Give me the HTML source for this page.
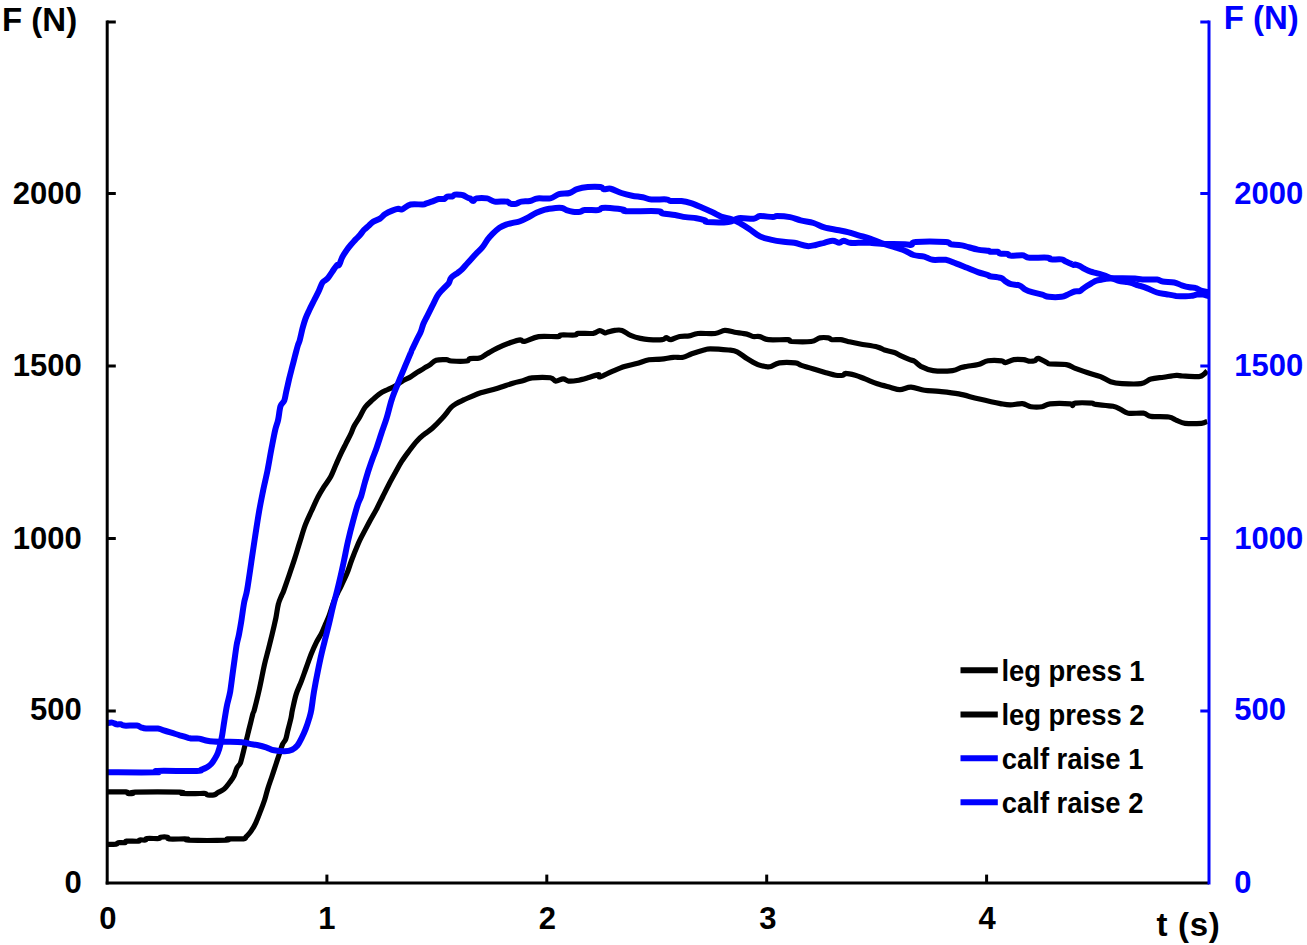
<!DOCTYPE html><html><head><meta charset="utf-8"><style>html,body{margin:0;padding:0;background:#fff;}svg{display:block}</style></head><body>
<svg width="1307" height="945" viewBox="0 0 1307 945">
<rect width="1307" height="945" fill="#fff"/>
<g fill="none" stroke-linejoin="round" stroke-linecap="butt">
<path d="M107.6,844.3 C109.0,844.3 114.5,844.6 116.2,844.3 C117.9,844.0 116.5,843.0 118.0,842.7 C119.5,842.4 123.6,843.0 125.0,842.7 C126.4,842.5 124.3,841.5 126.5,841.2 C128.7,841.0 136.1,841.4 138.3,841.2 C140.5,841.0 138.3,840.2 139.5,840.0 C140.7,839.8 144.4,840.2 145.6,840.0 C146.8,839.8 144.6,838.8 146.8,838.5 C149.1,838.2 156.8,838.7 159.1,838.5 C161.3,838.3 158.9,837.4 160.3,837.2 C161.7,837.0 166.3,836.9 167.7,837.2 C169.1,837.5 165.7,838.7 168.9,839.0 C172.2,839.3 183.9,838.8 187.2,839.0 C190.5,839.2 182.0,840.0 188.5,840.2 C195.0,840.4 219.9,840.4 226.4,840.2 C232.9,840.0 224.7,839.0 227.6,838.8 C230.5,838.6 240.5,839.1 243.6,838.8 C246.7,838.5 244.8,838.1 246.0,836.9 C247.2,835.7 249.3,833.8 250.9,831.4 C252.5,829.0 254.2,826.3 255.8,822.8 C257.4,819.3 259.2,814.4 260.7,810.6 C262.2,806.8 263.4,803.6 264.6,800.0 C265.8,796.4 266.5,792.9 267.7,788.9 C268.9,784.9 270.6,780.4 272.0,776.2 C273.4,772.0 275.0,767.2 276.2,763.5 C277.4,759.8 278.3,757.2 279.4,754.0 C280.4,750.8 281.4,746.9 282.5,744.4 C283.6,741.9 284.8,741.5 285.7,739.2 C286.6,736.9 286.9,734.2 287.8,730.7 C288.7,727.2 290.2,721.5 291.0,718.0 C291.8,714.5 291.5,714.0 292.4,710.0 C293.3,706.0 294.7,698.9 296.2,694.1 C297.7,689.3 299.6,685.8 301.3,681.4 C303.0,677.0 304.6,672.1 306.3,667.5 C308.0,662.9 309.7,657.7 311.4,653.5 C313.1,649.3 314.8,645.5 316.5,642.1 C318.2,638.7 320.1,636.2 321.6,633.2 C323.1,630.2 324.1,627.3 325.4,624.3 C326.7,621.3 327.7,619.4 329.2,615.4 C330.7,611.4 332.6,604.4 334.3,600.2 C336.0,596.0 337.1,594.4 339.2,590.0 C341.3,585.6 344.6,579.1 346.7,574.1 C348.8,569.1 349.8,565.0 351.7,560.0 C353.6,555.0 356.5,547.9 358.1,544.1 C359.7,540.3 359.4,540.9 361.2,537.4 C363.0,533.9 366.3,527.7 368.8,523.0 C371.3,518.3 374.1,513.8 376.4,509.4 C378.7,505.0 380.7,500.7 382.8,496.5 C384.9,492.3 387.0,488.0 389.1,484.0 C391.2,480.0 393.4,476.1 395.5,472.3 C397.6,468.5 399.5,464.8 401.8,461.2 C404.1,457.6 406.9,453.9 409.4,450.5 C411.9,447.1 414.5,443.6 417.0,440.9 C419.5,438.1 422.1,436.1 424.6,434.0 C427.2,431.9 429.3,430.9 432.3,428.2 C435.3,425.5 439.2,421.5 442.4,418.0 C445.6,414.5 449.1,409.4 451.5,407.0 C453.9,404.6 454.4,404.7 456.5,403.5 C458.6,402.3 461.9,400.8 464.1,399.7 C466.4,398.6 467.2,398.2 470.0,397.1 C472.8,396.0 476.2,394.2 480.7,392.8 C485.2,391.4 491.5,390.2 496.8,388.6 C502.1,387.0 508.3,384.6 512.8,383.2 C517.3,381.8 520.4,381.4 523.6,380.5 C526.8,379.6 527.7,378.2 532.1,377.8 C536.5,377.4 546.4,377.2 550.3,377.8 C554.2,378.4 553.6,380.9 555.7,381.1 C557.9,381.3 561.1,378.9 563.2,378.9 C565.3,378.9 566.2,380.8 568.5,381.1 C570.8,381.4 573.9,381.1 577.1,380.5 C580.3,379.9 584.2,378.8 587.8,377.8 C591.4,376.8 596.5,374.8 598.5,374.6 C600.5,374.5 597.7,377.4 600.0,376.9 C602.3,376.4 608.1,373.1 612.2,371.4 C616.3,369.7 620.4,367.8 624.5,366.5 C628.6,365.2 632.6,364.6 636.7,363.5 C640.8,362.4 644.9,360.5 649.0,359.8 C653.1,359.1 657.1,359.6 661.2,359.2 C665.3,358.8 669.7,357.6 673.4,357.3 C677.1,357.0 680.1,357.9 683.2,357.3 C686.3,356.7 688.3,354.9 691.8,353.7 C695.3,352.5 700.9,350.8 704.0,350.0 C707.1,349.2 706.1,348.8 710.2,348.8 C714.3,348.8 724.0,349.5 728.5,350.0 C733.0,350.5 734.0,350.4 737.1,351.8 C740.2,353.2 743.4,356.5 746.9,358.6 C750.4,360.8 754.7,363.4 757.9,364.7 C761.1,366.0 763.8,366.3 765.9,366.6 C768.0,366.9 768.5,367.2 770.8,366.6 C773.0,366.0 775.3,363.5 779.4,362.9 C783.5,362.3 791.6,362.5 795.3,362.9 C799.0,363.3 798.3,364.4 801.4,365.4 C804.5,366.4 809.5,367.9 813.6,369.1 C817.7,370.3 822.2,371.7 825.9,372.7 C829.6,373.7 832.9,374.8 835.7,375.2 C838.6,375.6 841.4,375.5 843.0,375.2 C844.6,374.9 843.5,373.3 845.5,373.3 C847.5,373.3 852.0,374.3 855.3,375.2 C858.6,376.1 861.4,377.5 865.1,378.9 C868.8,380.3 873.0,382.4 877.3,383.8 C881.6,385.2 887.0,386.4 890.8,387.4 C894.6,388.4 896.6,389.7 900.0,389.6 C903.4,389.6 906.9,387.0 911.0,387.1 C915.1,387.2 919.8,389.5 924.5,390.2 C929.2,390.9 933.5,390.8 939.2,391.4 C944.9,392.0 952.3,392.7 958.8,393.9 C965.3,395.1 971.4,397.2 978.3,398.8 C985.2,400.4 995.1,402.6 1000.4,403.6 C1005.7,404.6 1006.5,404.9 1010.2,404.9 C1013.9,404.9 1018.9,403.3 1022.4,403.6 C1025.9,403.9 1027.7,406.2 1031.0,406.7 C1034.3,407.2 1038.8,407.2 1042.0,406.7 C1045.2,406.2 1045.3,404.3 1050.0,403.8 C1054.7,403.3 1066.4,403.5 1070.2,403.8 C1074.0,404.1 1071.9,405.8 1072.7,405.7 C1073.5,405.6 1072.1,403.5 1075.3,403.1 C1078.5,402.7 1088.3,402.9 1091.7,403.1 C1095.1,403.3 1091.9,403.9 1095.5,404.4 C1099.1,404.9 1108.9,405.5 1113.1,406.3 C1117.3,407.1 1118.2,408.2 1120.7,409.4 C1123.2,410.5 1124.5,412.6 1128.3,413.2 C1132.1,413.8 1139.6,412.7 1143.4,413.2 C1147.2,413.7 1146.8,415.8 1151.0,416.4 C1155.2,417.0 1164.5,416.4 1168.7,417.0 C1172.9,417.6 1173.6,419.1 1176.3,420.2 C1179.0,421.2 1180.9,422.8 1185.1,423.3 C1189.3,423.8 1197.8,423.6 1201.5,423.3 C1205.2,423.0 1206.2,421.7 1207.2,421.4" stroke="#000" stroke-width="5.2"/>
<path d="M107.6,791.9 C110.7,791.9 122.6,791.6 126.0,791.9 C129.4,792.2 126.8,793.2 128.0,793.5 C129.2,793.8 131.8,793.7 133.0,793.5 C134.2,793.3 127.2,792.4 135.0,792.2 C142.8,792.0 172.2,792.0 180.0,792.2 C187.8,792.4 178.7,793.3 182.0,793.5 C185.3,793.7 196.1,793.5 200.0,793.5 C203.9,793.5 204.3,793.3 205.6,793.5 C206.8,793.7 206.1,794.7 207.5,794.9 C208.9,795.1 212.2,795.3 214.0,794.9 C215.8,794.5 216.3,793.6 218.0,792.6 C219.7,791.6 222.4,790.6 224.3,788.9 C226.2,787.2 228.0,784.6 229.6,782.5 C231.2,780.4 232.7,778.7 233.9,776.2 C235.1,773.7 235.9,769.8 237.0,767.7 C238.1,765.6 239.3,765.4 240.2,763.5 C241.1,761.6 241.6,758.8 242.3,756.1 C243.0,753.5 243.7,750.4 244.4,747.6 C245.1,744.8 245.7,742.7 246.6,739.2 C247.5,735.7 248.6,730.7 249.7,726.5 C250.8,722.3 252.1,716.5 252.9,713.8 C253.7,711.0 253.2,714.1 254.3,710.0 C255.4,705.9 257.7,696.5 259.4,689.0 C261.1,681.5 262.9,671.4 264.4,664.9 C265.9,658.4 267.0,654.8 268.3,649.7 C269.6,644.6 270.8,639.7 272.1,634.4 C273.4,629.1 274.8,623.0 275.9,617.9 C276.9,612.8 277.4,607.7 278.4,604.0 C279.3,600.3 280.7,597.8 281.6,595.5 C282.5,593.2 282.5,594.1 283.8,590.5 C285.1,586.9 287.7,579.4 289.5,574.1 C291.3,568.8 292.9,564.2 294.6,558.9 C296.3,553.6 297.9,548.1 299.7,542.4 C301.5,536.7 303.4,530.0 305.4,524.7 C307.4,519.4 309.6,515.1 311.7,510.5 C313.8,505.9 316.0,500.9 318.1,496.8 C320.2,492.8 322.3,489.6 324.4,486.2 C326.5,482.8 328.9,479.9 330.8,476.4 C332.7,472.9 334.1,468.8 335.8,465.0 C337.5,461.2 339.2,457.2 340.9,453.6 C342.6,450.0 344.3,446.8 346.0,443.4 C347.7,440.0 349.8,436.2 351.1,433.3 C352.4,430.4 352.6,428.9 354.0,426.2 C355.4,423.5 357.6,420.5 359.5,417.4 C361.4,414.2 362.9,410.2 365.1,407.3 C367.3,404.4 370.2,402.0 372.7,399.7 C375.2,397.4 377.8,395.0 380.3,393.3 C382.8,391.6 385.3,390.8 387.9,389.5 C390.4,388.2 393.1,387.2 395.6,385.7 C398.2,384.2 400.7,382.1 403.2,380.6 C405.7,379.1 408.5,378.2 410.8,376.8 C413.1,375.4 415.0,373.8 417.1,372.4 C419.2,371.0 421.4,369.9 423.5,368.6 C425.6,367.3 427.7,366.2 429.8,364.8 C431.9,363.4 433.4,361.2 436.2,360.3 C438.9,359.4 443.8,359.6 446.3,359.7 C448.8,359.8 448.0,360.8 451.4,361.0 C454.8,361.2 463.6,361.4 466.7,361.0 C469.8,360.6 467.9,359.1 470.0,358.6 C472.1,358.1 476.8,358.8 479.6,358.0 C482.5,357.2 484.2,355.3 487.1,353.7 C490.0,352.1 492.9,350.3 496.8,348.4 C500.7,346.5 506.8,343.9 510.7,342.5 C514.6,341.1 518.0,340.0 520.3,339.8 C522.6,339.6 521.5,341.9 524.6,341.4 C527.7,340.9 533.1,337.4 538.6,336.6 C544.1,335.8 554.1,336.9 557.8,336.6 C561.5,336.3 558.1,335.3 561.0,335.0 C563.9,334.7 572.1,335.3 575.0,335.0 C577.9,334.7 575.2,333.7 578.2,333.4 C581.2,333.1 589.6,333.8 593.2,333.4 C596.8,332.9 597.6,330.8 599.6,330.7 C601.6,330.6 603.7,332.6 605.0,332.9 C606.3,333.1 605.7,332.6 607.3,332.2 C608.9,331.8 612.2,330.7 614.7,330.4 C617.2,330.1 619.4,329.6 622.0,330.4 C624.6,331.2 627.5,334.0 630.6,335.3 C633.7,336.6 637.3,337.7 640.4,338.4 C643.5,339.1 645.3,339.4 649.0,339.6 C652.7,339.8 659.5,339.9 662.4,339.6 C665.2,339.3 664.7,337.7 666.1,337.7 C667.5,337.7 668.8,339.8 671.0,339.6 C673.2,339.4 676.5,337.1 679.6,336.5 C682.7,335.9 686.4,336.4 689.4,335.9 C692.4,335.4 693.6,333.9 697.9,333.5 C702.2,333.1 710.6,334.0 715.1,333.5 C719.6,333.0 721.5,330.6 724.8,330.4 C728.0,330.2 730.9,331.6 734.6,332.2 C738.3,332.8 743.8,333.4 746.9,334.1 C750.0,334.8 750.9,336.1 753.0,336.5 C755.1,336.9 757.2,336.1 759.8,336.6 C762.4,337.1 763.7,339.2 768.4,339.7 C773.1,340.2 784.0,339.4 787.9,339.7 C791.8,340.0 787.7,341.2 791.6,341.5 C795.5,341.8 806.5,342.1 811.2,341.5 C815.9,340.9 816.9,338.5 819.8,337.9 C822.6,337.3 826.3,337.6 828.3,337.9 C830.3,338.2 830.0,339.4 832.0,339.7 C834.0,340.0 838.0,339.4 840.6,339.7 C843.2,340.0 844.6,340.8 847.9,341.5 C851.2,342.2 855.3,343.1 860.2,344.0 C865.1,344.9 873.2,346.0 877.3,347.0 C881.4,348.0 881.8,349.2 884.6,350.1 C887.5,351.0 891.8,351.6 894.4,352.5 C897.0,353.4 897.4,354.1 900.0,355.3 C902.6,356.5 907.3,358.6 909.8,359.6 C912.2,360.6 912.9,360.3 914.7,361.4 C916.5,362.5 917.8,364.8 920.8,366.3 C923.8,367.8 927.7,369.9 933.0,370.6 C938.3,371.3 947.9,371.1 952.6,370.6 C957.3,370.1 958.8,368.2 961.2,367.5 C963.7,366.8 964.4,366.8 967.3,366.3 C970.1,365.8 974.8,365.4 978.3,364.5 C981.8,363.6 984.2,361.4 988.1,360.8 C992.0,360.2 998.7,360.5 1001.6,360.8 C1004.5,361.1 1003.3,362.8 1005.3,362.6 C1007.3,362.4 1010.8,360.1 1013.8,359.6 C1016.8,359.1 1021.1,359.4 1023.6,359.6 C1026.0,359.9 1026.7,360.9 1028.5,361.1 C1030.3,361.3 1033.0,361.2 1034.6,360.8 C1036.2,360.4 1036.2,358.1 1038.3,358.4 C1040.3,358.7 1045.0,361.7 1046.9,362.6 C1048.9,363.5 1046.8,363.7 1050.0,364.0 C1053.2,364.3 1062.2,363.9 1066.4,364.6 C1070.6,365.3 1071.7,367.0 1075.3,368.4 C1078.9,369.8 1083.7,371.4 1087.9,372.8 C1092.1,374.2 1096.7,375.1 1100.5,376.6 C1104.3,378.1 1107.0,380.5 1110.6,381.7 C1114.2,382.9 1117.0,383.3 1122.0,383.6 C1127.0,383.9 1136.1,384.4 1140.9,383.6 C1145.7,382.9 1147.2,380.2 1151.0,379.1 C1154.8,378.0 1159.4,377.8 1163.6,377.2 C1167.8,376.6 1173.1,375.6 1176.3,375.4 C1179.5,375.2 1178.8,375.8 1182.6,376.0 C1186.4,376.2 1195.4,376.9 1199.0,376.6 C1202.6,376.3 1202.6,375.1 1204.0,374.1 C1205.4,373.2 1206.7,371.4 1207.2,370.9" stroke="#000" stroke-width="5.2"/>
<path d="M107.4,723.0 C108.2,722.9 110.9,722.4 112.4,722.6 C113.9,722.8 115.2,724.0 116.6,724.3 C118.0,724.6 119.5,724.1 120.8,724.3 C122.1,724.5 121.5,725.4 124.2,725.6 C126.9,725.8 134.0,725.3 136.8,725.6 C139.6,725.9 139.4,726.8 141.0,727.3 C142.6,727.8 143.3,728.3 146.1,728.5 C148.9,728.7 155.1,728.2 157.9,728.5 C160.7,728.8 160.7,729.5 162.9,730.2 C165.1,730.9 168.5,731.9 171.3,732.7 C174.1,733.6 177.0,734.4 179.8,735.3 C182.6,736.1 186.1,737.2 188.2,737.8 C190.3,738.3 190.6,738.5 192.4,738.6 C194.2,738.7 197.0,738.3 199.1,738.6 C201.2,738.9 202.6,739.8 205.0,740.3 C207.4,740.8 209.8,741.4 213.4,741.6 C217.0,741.9 221.7,741.7 226.5,741.8 C231.3,741.9 238.4,741.9 242.3,742.3 C246.2,742.6 246.9,743.4 249.7,743.9 C252.5,744.4 256.5,744.9 259.3,745.5 C262.1,746.1 264.2,746.8 266.7,747.6 C269.2,748.4 271.1,749.7 274.1,750.3 C277.1,750.9 281.7,751.4 284.7,751.3 C287.7,751.2 290.0,750.7 292.1,749.7 C294.2,748.7 295.8,747.4 297.4,745.5 C299.0,743.6 300.2,740.9 301.6,738.1 C303.0,735.3 304.6,731.8 305.8,728.6 C307.0,725.4 308.1,722.1 309.0,719.0 C309.9,715.9 310.5,714.6 311.3,710.0 C312.1,705.4 312.9,698.1 314.0,691.6 C315.1,685.1 316.5,677.6 317.8,671.3 C319.1,664.9 320.3,659.0 321.6,653.5 C322.9,648.0 324.1,643.4 325.4,638.3 C326.7,633.2 327.9,628.3 329.2,623.0 C330.5,617.7 331.6,612.0 333.0,606.5 C334.4,601.0 335.9,595.8 337.3,590.0 C338.7,584.2 340.5,576.6 341.6,571.6 C342.7,566.6 343.1,565.0 344.1,560.0 C345.2,555.0 346.4,548.1 347.9,541.6 C349.4,535.1 351.3,527.6 353.0,521.3 C354.7,514.9 356.7,507.7 358.1,503.5 C359.5,499.3 360.1,499.6 361.2,496.0 C362.3,492.4 363.7,486.4 365.0,482.0 C366.3,477.6 367.5,473.4 368.8,469.5 C370.1,465.6 371.3,462.0 372.6,458.5 C373.9,455.0 374.9,452.8 376.4,448.5 C377.9,444.2 379.8,438.1 381.5,433.0 C383.2,427.9 384.9,423.7 386.6,418.1 C388.3,412.6 389.8,405.5 391.7,399.7 C393.6,393.9 396.0,388.5 398.1,383.2 C400.2,377.9 402.3,373.0 404.4,367.9 C406.5,362.8 409.6,355.7 410.8,352.7 C412.1,349.7 410.9,352.2 411.9,350.0 C412.9,347.8 415.5,342.3 417.0,339.2 C418.5,336.1 419.8,334.1 420.8,331.6 C421.9,329.1 422.2,326.6 423.3,324.0 C424.4,321.4 425.6,319.3 427.1,316.3 C428.6,313.3 430.5,309.6 432.2,306.2 C433.9,302.8 435.6,298.8 437.3,296.0 C439.0,293.2 440.5,291.8 442.4,289.7 C444.3,287.6 447.3,285.3 448.7,283.3 C450.1,281.3 449.5,279.6 451.0,277.9 C452.5,276.1 456.0,274.2 457.8,272.8 C459.6,271.4 460.3,271.1 462.0,269.4 C463.7,267.7 465.6,265.2 467.9,262.7 C470.2,260.2 473.2,256.8 475.6,254.2 C478.0,251.6 480.3,249.8 482.3,247.4 C484.3,245.0 485.7,242.1 487.4,239.8 C489.1,237.6 490.5,235.9 492.5,233.9 C494.5,231.9 497.1,229.5 499.3,227.9 C501.6,226.3 503.8,225.4 506.0,224.6 C508.2,223.8 510.5,223.5 512.8,222.9 C515.1,222.3 517.5,222.1 520.0,221.2 C522.5,220.3 525.1,219.0 527.8,217.6 C530.5,216.2 533.5,214.1 536.4,212.8 C539.3,211.5 541.8,210.4 545.0,209.6 C548.2,208.8 552.9,208.3 555.7,208.0 C558.6,207.7 560.3,207.7 562.1,208.0 C563.9,208.3 564.6,209.5 566.4,210.1 C568.2,210.7 570.5,211.4 572.8,211.7 C575.1,212.0 578.3,212.0 580.3,211.7 C582.3,211.4 581.6,210.4 584.6,210.1 C587.6,209.8 595.6,210.4 598.5,210.1 C601.4,209.8 599.8,208.3 601.7,208.0 C603.6,207.7 606.4,207.7 610.0,208.0 C613.6,208.3 621.0,209.1 623.6,209.6 C626.2,210.1 620.0,210.9 625.7,211.2 C631.4,211.5 651.7,210.8 657.8,211.2 C663.9,211.5 659.2,212.7 662.1,213.3 C665.0,213.9 671.1,214.4 675.0,215.0 C678.9,215.6 682.1,216.6 685.7,217.1 C689.3,217.6 693.2,217.7 696.4,218.2 C699.6,218.7 703.2,219.7 705.0,220.3 C706.8,220.9 703.2,221.6 707.1,221.9 C711.0,222.2 723.2,222.5 728.5,221.9 C733.8,221.3 734.4,218.7 738.6,218.2 C742.8,217.7 750.0,219.0 753.6,218.7 C757.2,218.3 756.8,216.4 760.0,216.1 C763.2,215.8 769.9,217.1 772.8,217.1 C775.6,217.1 774.2,216.1 777.1,216.1 C780.0,216.1 786.1,216.4 790.0,217.1 C793.9,217.8 796.8,219.4 800.7,220.4 C804.6,221.4 809.6,221.8 813.5,223.0 C817.4,224.2 820.4,226.1 824.3,227.3 C828.2,228.5 833.2,229.2 837.1,230.0 C841.0,230.8 844.2,231.2 847.8,232.1 C851.4,233.0 854.8,234.2 858.5,235.3 C862.2,236.4 866.2,237.3 870.0,238.6 C873.8,239.9 877.2,241.7 881.4,243.2 C885.6,244.7 891.4,246.2 895.3,247.5 C899.2,248.8 902.0,249.4 905.0,250.7 C908.0,251.9 910.4,254.0 913.6,255.0 C916.8,256.0 921.1,255.8 924.3,256.6 C927.5,257.4 929.2,259.3 932.8,259.8 C936.4,260.3 941.8,259.2 945.7,259.8 C949.6,260.4 952.8,262.3 956.4,263.6 C960.0,264.9 963.5,266.4 967.1,267.8 C970.7,269.2 974.2,270.9 977.8,272.1 C981.4,273.4 986.5,274.6 988.5,275.3 C990.5,276.0 987.9,275.8 990.0,276.2 C992.1,276.6 998.4,277.1 1000.9,277.9 C1003.4,278.7 1003.5,280.1 1005.2,281.2 C1006.9,282.2 1008.6,283.5 1011.0,284.2 C1013.4,284.9 1017.1,284.6 1019.5,285.5 C1021.9,286.4 1023.3,288.6 1025.4,289.7 C1027.5,290.8 1029.3,291.4 1032.1,292.2 C1034.9,293.0 1039.4,293.9 1042.2,294.7 C1045.0,295.5 1045.7,296.4 1048.9,296.8 C1052.1,297.2 1058.4,297.2 1061.5,296.8 C1064.6,296.4 1065.2,295.6 1067.4,294.7 C1069.6,293.8 1072.5,292.1 1074.6,291.5 C1076.7,290.9 1078.5,291.6 1079.8,291.2 C1081.0,290.8 1080.9,290.2 1082.1,289.3 C1083.3,288.4 1085.3,287.0 1086.9,286.0 C1088.5,285.0 1090.1,284.0 1091.7,283.1 C1093.3,282.2 1094.8,281.2 1096.4,280.7 C1098.0,280.1 1099.6,280.1 1101.2,279.8 C1102.8,279.5 1104.0,279.1 1106.0,278.8 C1108.0,278.6 1110.3,278.4 1113.1,278.3 C1115.9,278.2 1118.9,278.3 1122.6,278.3 C1126.2,278.3 1131.7,278.3 1135.0,278.5 C1138.3,278.7 1138.9,279.2 1142.6,279.4 C1146.3,279.6 1153.7,279.2 1157.0,279.6 C1160.3,280.0 1159.8,281.0 1162.7,281.5 C1165.6,282.0 1171.0,281.9 1174.2,282.5 C1177.4,283.1 1179.2,284.5 1181.8,285.3 C1184.3,286.1 1187.3,286.9 1189.5,287.3 C1191.7,287.7 1193.3,287.3 1195.2,287.9 C1197.1,288.4 1198.8,289.9 1201.0,290.6 C1203.2,291.3 1207.3,292.0 1208.6,292.3" stroke="#0000ff" stroke-width="6.0"/>
<path d="M107.6,772.3 C115.7,772.3 148.0,772.5 156.3,772.3 C164.6,772.1 150.6,771.1 157.3,770.9 C164.0,770.7 189.4,771.1 196.7,770.9 C204.0,770.7 199.6,770.3 201.3,769.7 C203.0,769.1 205.1,768.4 206.8,767.4 C208.5,766.4 210.0,765.3 211.4,763.8 C212.8,762.3 214.0,760.1 215.1,758.3 C216.2,756.5 217.1,754.9 217.9,752.8 C218.7,750.7 219.4,748.5 220.1,745.5 C220.8,742.5 221.5,738.9 222.2,734.9 C222.9,730.9 223.5,726.1 224.3,721.2 C225.1,716.3 226.0,710.2 227.0,705.3 C228.0,700.4 229.1,697.7 230.2,691.6 C231.2,685.5 232.2,676.3 233.3,668.7 C234.4,661.1 235.6,651.6 236.5,645.9 C237.4,640.2 238.2,638.8 239.0,634.4 C239.8,630.0 240.8,624.5 241.6,619.2 C242.4,613.9 243.2,607.6 244.1,602.7 C245.0,597.8 245.9,596.9 247.1,590.0 C248.3,583.1 250.1,570.4 251.4,561.4 C252.8,552.4 253.9,544.2 255.2,536.0 C256.5,527.8 257.7,519.3 259.0,511.9 C260.3,504.5 261.5,498.6 262.9,491.6 C264.3,484.6 266.2,477.1 267.6,470.0 C269.0,462.9 270.1,455.7 271.4,449.0 C272.7,442.3 274.1,434.8 275.2,430.0 C276.3,425.2 277.2,424.0 278.1,420.0 C279.0,416.0 279.5,409.4 280.5,406.2 C281.5,402.9 283.4,402.9 284.3,400.5 C285.2,398.1 285.4,395.4 286.2,391.9 C287.0,388.4 288.1,383.5 289.0,379.5 C289.9,375.5 290.9,371.9 291.9,368.1 C292.9,364.3 293.9,360.4 294.8,356.7 C295.8,353.0 296.8,349.0 297.6,346.2 C298.4,343.4 299.0,343.0 299.8,340.0 C300.6,337.0 301.7,331.7 302.6,328.1 C303.6,324.5 304.4,321.6 305.5,318.6 C306.6,315.6 307.9,313.0 309.3,310.0 C310.7,307.0 312.4,303.7 314.0,300.5 C315.6,297.3 317.4,294.0 318.8,291.0 C320.2,288.0 321.2,284.5 322.6,282.4 C324.0,280.3 325.8,280.4 327.4,278.6 C329.0,276.9 330.5,274.1 332.1,271.9 C333.7,269.7 335.7,266.3 336.9,265.2 C338.1,264.1 338.2,266.2 339.1,265.0 C340.0,263.8 340.8,260.2 342.0,257.7 C343.2,255.2 345.1,252.4 346.6,250.2 C348.2,248.0 349.7,246.2 351.3,244.3 C352.9,242.5 354.6,240.7 356.0,239.1 C357.4,237.5 358.6,236.6 360.0,235.0 C361.4,233.4 362.6,231.4 364.1,229.8 C365.6,228.2 367.2,227.1 368.8,225.7 C370.4,224.3 371.5,222.8 373.4,221.6 C375.3,220.4 378.1,219.8 380.0,218.6 C381.9,217.4 382.9,215.6 384.9,214.3 C386.9,213.0 389.9,211.5 392.2,210.6 C394.4,209.7 396.8,209.0 398.4,208.8 C400.0,208.6 400.0,210.1 402.0,209.4 C404.0,208.7 407.1,205.3 410.6,204.5 C414.1,203.7 420.2,204.7 422.8,204.5 C425.4,204.3 424.9,203.8 426.5,203.3 C428.1,202.8 430.6,202.1 432.6,201.4 C434.7,200.7 436.9,199.4 438.8,199.0 C440.8,198.6 442.9,199.4 444.3,199.0 C445.7,198.6 446.0,196.9 447.3,196.5 C448.6,196.1 451.0,196.8 452.2,196.5 C453.4,196.2 453.4,195.0 454.7,194.7 C456.0,194.4 458.6,194.6 460.0,194.7 C461.4,194.8 461.4,194.7 462.8,195.2 C464.2,195.7 467.2,197.4 468.4,197.9 C469.6,198.4 469.2,197.9 470.0,198.4 C470.8,198.9 472.1,201.0 473.2,201.0 C474.3,201.0 474.1,198.8 476.4,198.4 C478.7,198.0 484.1,197.9 487.1,198.4 C490.1,198.9 491.4,201.1 494.6,201.6 C497.8,202.1 503.7,201.2 506.4,201.6 C509.1,201.9 509.1,203.3 510.7,203.7 C512.3,204.0 514.3,204.0 516.1,203.7 C517.9,203.3 519.1,202.0 521.4,201.6 C523.7,201.2 527.3,201.5 530.0,201.0 C532.7,200.5 534.1,198.8 537.5,198.4 C540.9,198.0 546.7,199.1 550.3,198.4 C553.9,197.7 555.7,195.0 558.9,194.1 C562.1,193.2 566.6,193.8 569.6,193.0 C572.6,192.2 574.1,190.2 577.1,189.2 C580.1,188.2 583.9,187.4 587.8,187.1 C591.7,186.8 598.0,186.8 600.7,187.1 C603.4,187.4 602.2,188.9 603.9,189.2 C605.6,189.5 607.8,188.1 610.7,188.7 C613.6,189.3 617.8,191.8 621.4,193.0 C625.0,194.2 628.5,195.0 632.1,195.7 C635.7,196.4 639.6,196.7 642.8,197.3 C646.0,197.9 647.5,199.1 651.4,199.4 C655.3,199.8 663.2,199.1 666.4,199.4 C669.6,199.7 668.2,200.7 670.7,201.0 C673.2,201.3 678.0,200.6 681.4,201.0 C684.8,201.4 687.6,202.1 691.0,203.2 C694.4,204.3 698.2,206.0 701.8,207.5 C705.4,209.0 709.3,210.8 712.5,212.3 C715.7,213.8 717.8,215.4 721.0,216.6 C724.2,217.8 728.4,218.0 731.7,219.2 C735.0,220.4 737.8,222.0 740.7,223.6 C743.6,225.2 746.1,226.8 749.3,228.9 C752.5,231.0 756.4,234.6 760.0,236.4 C763.6,238.2 766.8,238.7 770.7,239.6 C774.6,240.5 779.7,241.3 783.6,241.8 C787.5,242.3 790.4,242.1 794.3,242.8 C798.2,243.5 803.5,245.7 807.1,246.1 C810.7,246.5 812.8,245.6 815.7,245.0 C818.6,244.4 821.4,243.5 824.3,242.8 C827.1,242.1 830.3,240.7 832.8,240.7 C835.3,240.7 837.5,242.8 839.3,242.8 C841.1,242.8 841.7,240.7 843.5,240.7 C845.3,240.7 847.5,242.5 850.0,242.8 C852.5,243.2 855.2,242.8 858.5,242.8 C861.8,242.8 866.2,242.7 870.0,242.8 C873.8,243.0 875.6,243.4 881.4,243.7 C887.2,243.9 900.0,244.1 905.0,244.3 C910.0,244.5 909.6,245.2 911.4,244.8 C913.2,244.4 910.0,242.6 915.7,242.1 C921.4,241.6 939.8,241.7 945.7,242.1 C951.6,242.5 948.3,243.8 951.0,244.3 C953.7,244.9 957.3,244.5 961.8,245.4 C966.3,246.3 973.3,248.7 977.8,249.6 C982.2,250.5 986.5,250.3 988.5,250.7 C990.5,251.1 988.5,251.6 990.0,251.8 C991.5,252.0 995.9,251.5 997.6,251.8 C999.3,252.1 998.4,253.2 1000.1,253.5 C1001.8,253.8 1006.0,253.6 1007.7,253.9 C1009.4,254.2 1007.8,255.4 1010.2,255.6 C1012.6,255.8 1019.5,255.1 1022.0,255.2 C1024.5,255.3 1024.1,256.0 1025.4,256.4 C1026.7,256.8 1025.8,257.5 1029.6,257.7 C1033.4,257.9 1044.6,257.4 1048.1,257.7 C1051.6,258.0 1048.4,259.1 1050.6,259.4 C1052.8,259.7 1059.0,259.0 1061.5,259.4 C1064.0,259.8 1063.8,260.6 1065.8,261.5 C1067.8,262.4 1071.8,264.3 1073.3,264.8 C1074.8,265.3 1073.9,264.3 1075.0,264.5 C1076.1,264.7 1078.2,265.3 1079.8,266.0 C1081.4,266.7 1082.7,267.9 1084.5,268.8 C1086.3,269.8 1088.7,271.0 1090.7,271.7 C1092.7,272.4 1094.6,272.6 1096.4,273.1 C1098.2,273.6 1099.7,273.9 1101.7,274.5 C1103.7,275.1 1105.6,276.0 1108.3,277.0 C1111.0,278.0 1114.7,279.6 1117.9,280.5 C1121.1,281.4 1125.0,281.7 1127.4,282.1 C1129.8,282.5 1130.7,282.7 1132.1,283.1 C1133.5,283.5 1134.7,284.2 1136.0,284.6 C1137.3,285.1 1137.8,285.2 1139.7,285.8 C1141.6,286.4 1144.5,287.3 1147.4,288.4 C1150.3,289.5 1153.8,291.5 1157.0,292.5 C1160.2,293.5 1163.3,293.6 1166.5,294.2 C1169.7,294.8 1172.9,295.5 1176.1,295.9 C1179.3,296.2 1183.0,296.3 1185.6,296.3 C1188.1,296.3 1189.5,296.2 1191.4,295.9 C1193.3,295.6 1195.2,294.8 1197.1,294.6 C1199.0,294.4 1201.0,294.4 1202.9,294.6 C1204.8,294.9 1207.6,295.9 1208.6,296.1" stroke="#0000ff" stroke-width="6.0"/>
</g>
<g stroke="#000" stroke-width="3" fill="none">
<line x1="107.2" y1="20.5" x2="107.2" y2="884.5"/>
<line x1="105.7" y1="883" x2="1209" y2="883"/>
<line x1="107" y1="711.0" x2="115.8" y2="711.0"/>
<line x1="107" y1="538.5" x2="115.8" y2="538.5"/>
<line x1="107" y1="366.0" x2="115.8" y2="366.0"/>
<line x1="107" y1="193.5" x2="115.8" y2="193.5"/>
<line x1="107" y1="22" x2="115.8" y2="22"/>
<line x1="326.9" y1="883" x2="326.9" y2="874.6"/>
<line x1="546.8" y1="883" x2="546.8" y2="874.6"/>
<line x1="766.7" y1="883" x2="766.7" y2="874.6"/>
<line x1="986.6" y1="883" x2="986.6" y2="874.6"/>
</g>
<g stroke="#0000ff" stroke-width="3" fill="none">
<line x1="1209" y1="20.5" x2="1209" y2="884.5"/>
<line x1="1200.3" y1="711.0" x2="1209" y2="711.0"/>
<line x1="1200.3" y1="538.5" x2="1209" y2="538.5"/>
<line x1="1200.3" y1="366.0" x2="1209" y2="366.0"/>
<line x1="1200.3" y1="193.5" x2="1209" y2="193.5"/>
<line x1="1200.3" y1="22" x2="1209" y2="22"/>
</g>
<g font-family="Liberation Sans, sans-serif" font-weight="bold">
<text transform="translate(81.70,893.45)" font-size="31" fill="#000" text-anchor="end">0</text>
<text transform="translate(81.70,720.35)" font-size="31" fill="#000" text-anchor="end">500</text>
<text transform="translate(81.70,548.75)" font-size="31" fill="#000" text-anchor="end">1000</text>
<text transform="translate(81.70,375.60)" font-size="31" fill="#000" text-anchor="end">1500</text>
<text transform="translate(81.70,203.95)" font-size="31" fill="#000" text-anchor="end">2000</text>
<text transform="translate(1234.30,893.45)" font-size="31" fill="#0000ff" text-anchor="start">0</text>
<text transform="translate(1234.30,720.35)" font-size="31" fill="#0000ff" text-anchor="start">500</text>
<text transform="translate(1234.30,548.75)" font-size="31" fill="#0000ff" text-anchor="start">1000</text>
<text transform="translate(1234.30,375.60)" font-size="31" fill="#0000ff" text-anchor="start">1500</text>
<text transform="translate(1234.30,203.95)" font-size="31" fill="#0000ff" text-anchor="start">2000</text>
<text transform="translate(107.80,928.85)" font-size="31" fill="#000" text-anchor="middle">0</text>
<text transform="translate(326.80,928.85)" font-size="31" fill="#000" text-anchor="middle">1</text>
<text transform="translate(547.30,928.85)" font-size="31" fill="#000" text-anchor="middle">2</text>
<text transform="translate(767.80,928.85)" font-size="31" fill="#000" text-anchor="middle">3</text>
<text transform="translate(987.10,928.85)" font-size="31" fill="#000" text-anchor="middle">4</text>
<text transform="translate(2.00,30.55)" font-size="33" fill="#000" text-anchor="start">F (N)</text>
<text transform="translate(1223.70,29.20)" font-size="33" fill="#0000ff" text-anchor="start">F (N)</text>
<text transform="translate(1156.40,935.65)" font-size="33" letter-spacing="0.7" fill="#000" text-anchor="start">t (s)</text>
<text transform="translate(1001.40,680.90) scale(0.945,1.0)" font-size="29" fill="#000" text-anchor="start">leg press 1</text>
<text transform="translate(1001.40,725.00) scale(0.945,1.0)" font-size="29" fill="#000" text-anchor="start">leg press 2</text>
<text transform="translate(1001.80,769.30) scale(0.945,1.0)" font-size="29" fill="#000" text-anchor="start">calf raise 1</text>
<text transform="translate(1001.80,813.40) scale(0.945,1.0)" font-size="29" fill="#000" text-anchor="start">calf raise 2</text>
</g>
<line x1="960.5" y1="670.3" x2="997.8" y2="670.3" stroke="#000" stroke-width="6"/>
<line x1="960.5" y1="714.4" x2="997.8" y2="714.4" stroke="#000" stroke-width="6"/>
<line x1="960.5" y1="758.2" x2="997.8" y2="758.2" stroke="#0000ff" stroke-width="6"/>
<line x1="960.5" y1="802.3" x2="997.8" y2="802.3" stroke="#0000ff" stroke-width="6"/>
</svg></body></html>
